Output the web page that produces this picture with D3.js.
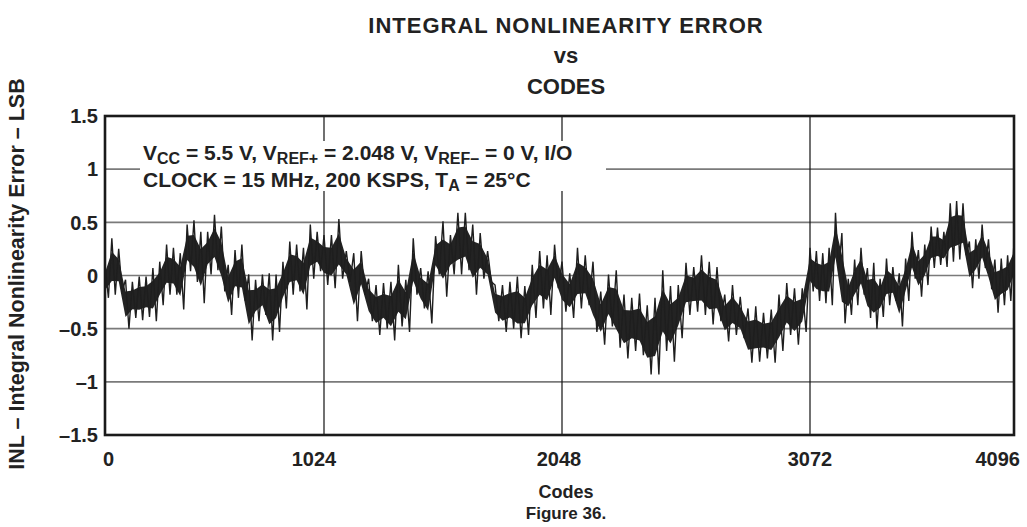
<!DOCTYPE html>
<html>
<head>
<meta charset="utf-8">
<script src="https://cdn.jsdelivr.net/npm/d3@7"></script>
<style>
    body { margin: 0; background: #fff; }
    svg { display: block; font-family: "Liberation Sans", Arial, Helvetica, sans-serif; font-weight: bold; }
</style>
</head>
<body>
<svg id="chart" width="1027" height="527"></svg>
<script>
    var codeStep = 32;
    var inlHigh = [0.10, 0.35, 0.25, -0.04, -0.06, -0.01, -0.01, 0.07, 0.13, 0.29, 0.26, 0.21, 0.48, 0.52, 0.41, 0.41,
                   0.57, 0.46, 0.10, 0.24, 0.29, 0.01, -0.04, 0.01, 0.02, 0.01, 0.13, 0.32, 0.29, 0.26, 0.48, 0.41,
                   0.38, 0.38, 0.53, 0.23, 0.21, 0.23, -0.03, -0.09, -0.07, -0.06, 0.10, -0.04, 0.35, 0.07, 0.04, 0.37,
                   0.51, 0.38, 0.59, 0.59, 0.48, 0.40, 0.23, -0.09, -0.09, -0.06, -0.01, -0.10, 0.10, 0.23, 0.19, 0.29,
                   0.13, 0.02, 0.26, 0.19, 0.13, -0.15, 0.01, 0.05, -0.18, -0.21, -0.17, -0.28, -0.21, 0.05, -0.10, -0.09,
                   0.12, 0.08, 0.19, 0.13, 0.08, -0.18, -0.09, -0.20, -0.31, -0.29, -0.35, -0.32, -0.18, -0.07, -0.12, -0.12,
                   0.26, 0.23, 0.21, 0.26, 0.59, 0.40, -0.03, 0.15, 0.26, 0.07, 0.12, -0.03, 0.16, 0.08, 0.02, 0.16,
                   0.41, 0.24, 0.29, 0.46, 0.45, 0.41, 0.68, 0.70, 0.68, 0.32, 0.34, 0.48, 0.34, 0.15, 0.16, 0.19, 0.32];
    var inlLow = [-0.21, -0.18, -0.15, -0.50, -0.40, -0.42, -0.39, -0.43, -0.28, -0.18, -0.18, -0.32, 0.04, -0.06, -0.26, 0.01,
                  0.05, -0.15, -0.37, -0.21, -0.24, -0.61, -0.43, -0.37, -0.61, -0.53, -0.31, -0.18, -0.15, -0.32, -0.03, 0.04,
                  -0.09, -0.12, -0.03, -0.06, -0.43, -0.18, -0.43, -0.56, -0.50, -0.61, -0.48, -0.53, -0.18, -0.31, -0.45, 0.01,
                  -0.20, 0.01, 0.01, 0.05, -0.18, -0.03, -0.06, -0.43, -0.53, -0.50, -0.59, -0.56, -0.40, -0.31, -0.37, -0.12,
                  -0.34, -0.40, -0.31, -0.28, -0.53, -0.65, -0.48, -0.68, -0.78, -0.71, -0.75, -0.93, -0.93, -0.71, -0.81, -0.59,
                  -0.37, -0.34, -0.37, -0.46, -0.43, -0.62, -0.56, -0.59, -0.82, -0.81, -0.78, -0.82, -0.71, -0.56, -0.65, -0.53,
                  -0.15, -0.24, -0.26, -0.28, 0.04, -0.45, -0.37, -0.28, -0.18, -0.40, -0.50, -0.39, -0.28, -0.24, -0.48, -0.24,
                  -0.03, -0.20, -0.09, 0.07, 0.10, 0.08, 0.13, 0.15, 0.19, -0.12, -0.03, 0.07, -0.13, -0.35, -0.28, -0.24, -0.09];

    var xTicks = [0, 1024, 2048, 3072, 4096];
    var yTicks = [-1.5, -1, -0.5, 0, 0.5, 1, 1.5];

    var svg = d3.select("#chart");

    // the printed axis is not evenly spaced, so map each 1024 block separately
    var x = d3.scaleLinear()
            .domain(xTicks)
            .range([105, 324, 562, 810, 1014]);
    var y = d3.scaleLinear()
            .domain([-1.5, 1.5])
            .range([435, 116]);

    // high swing at each code, low swing half a step later
    var trace = [];
    var band = [];
    inlHigh.forEach(function (h, i) {
        var c = i * codeStep;
        trace.push({code: c, v: h});
        trace.push({code: i < inlHigh.length - 1 ? c + codeStep / 2 : c, v: inlLow[i]});
        band.push({code: c, hi: h, lo: inlLow[i]});
    });

    // gridlines
    svg.append("g")
            .selectAll("line")
            .data(yTicks.slice(1, -1))
            .enter().append("line")
            .attr("x1", x(0)).attr("x2", x(4096))
            .attr("y1", function (d) { return y(d); })
            .attr("y2", function (d) { return y(d); })
            .attr("stroke", "#7a7a7a")
            .attr("stroke-width", 1.6);

    svg.append("g")
            .selectAll("line")
            .data(xTicks.slice(1, -1))
            .enter().append("line")
            .attr("x1", function (d) { return x(d); })
            .attr("x2", function (d) { return x(d); })
            .attr("y1", y(1.5)).attr("y2", y(-1.5))
            .attr("stroke", "#111")
            .attr("stroke-width", 1.2);

    // white box behind the conditions text
    svg.append("rect")
            .attr("x", 140).attr("y", 141)
            .attr("width", 466).attr("height", 50)
            .attr("fill", "#fff");

    // dense core of the noisy trace
    var core = d3.area()
            .x(function (d) { return x(d.code); })
            .y0(function (d) { return y(d.lo + (d.hi - d.lo) * 0.24); })
            .y1(function (d) { return y(d.hi - (d.hi - d.lo) * 0.24); });

    svg.append("path")
            .datum(band)
            .attr("d", core)
            .attr("fill", "#232323");

    var line = d3.line()
            .x(function (d) { return x(d.code); })
            .y(function (d) { return y(d.v); });

    svg.append("path")
            .datum(trace)
            .attr("d", line)
            .attr("fill", "none")
            .attr("stroke", "#1e1e1e")
            .attr("stroke-width", 1.4);

    // frame
    svg.append("rect")
            .attr("x", x(0)).attr("y", y(1.5))
            .attr("width", x(4096) - x(0))
            .attr("height", y(-1.5) - y(1.5))
            .attr("fill", "none")
            .attr("stroke", "#1a1a1a")
            .attr("stroke-width", 2.6);

    // y tick labels
    svg.append("g")
            .selectAll("text")
            .data(yTicks)
            .enter().append("text")
            .attr("x", 98)
            .attr("y", function (d) { return y(d); })
            .attr("dy", "0.36em")
            .attr("text-anchor", "end")
            .attr("font-size", 20)
            .attr("fill", "#222")
            .text(function (d) { return (d < 0 ? "\u2013" : "") + Math.abs(d); });

    // x tick labels (nudged like the printed figure)
    var xNudge = [-2, -10, -3, 0, 6];
    svg.append("g")
            .selectAll("text")
            .data(xTicks)
            .enter().append("text")
            .attr("x", function (d, i) { return x(d) + xNudge[i]; })
            .attr("y", 466)
            .attr("text-anchor", function (d, i) {
                return i === 0 ? "start" : (i === xTicks.length - 1 ? "end" : "middle");
            })
            .attr("font-size", 20)
            .attr("fill", "#222")
            .text(function (d) { return d; });

    // titles
    var titles = [["INTEGRAL NONLINEARITY ERROR", 33, 1], ["vs", 63, 0], ["CODES", 94, 0]];
    svg.append("g")
            .selectAll("text")
            .data(titles)
            .enter().append("text")
            .attr("x", 566)
            .attr("y", function (d) { return d[1]; })
            .attr("text-anchor", "middle")
            .attr("font-size", 22)
            .attr("letter-spacing", function (d) { return d[2]; })
            .attr("fill", "#222")
            .text(function (d) { return d[0]; });

    svg.append("text")
            .attr("x", 566).attr("y", 498)
            .attr("text-anchor", "middle")
            .attr("font-size", 18)
            .attr("fill", "#222")
            .text("Codes");

    svg.append("text")
            .attr("x", 566).attr("y", 519)
            .attr("text-anchor", "middle")
            .attr("font-size", 17)
            .attr("fill", "#222")
            .text("Figure 36.");

    svg.append("text")
            .attr("transform", "translate(24,274) rotate(-90)")
            .attr("text-anchor", "middle")
            .attr("font-size", 21.5)
            .attr("fill", "#222")
            .text("INL \u2013 Integral Nonlinearity Error \u2013 LSB");

    // test conditions
    function cond(yPos, parts) {
        var t = svg.append("text")
                .attr("x", 143).attr("y", yPos)
                .attr("font-size", 21)
                .attr("fill", "#222");
        parts.forEach(function (p) {
            var s = t.append("tspan").text(p[0]);
            if (p[1]) s.attr("font-size", 16).attr("dy", 4);
            else if (p[2]) s.attr("dy", -4);
        });
    }
    cond(160, [["V"], ["CC", 1], [" = 5.5 V, V", 0, 1], ["REF+", 1], [" = 2.048 V, V", 0, 1], ["REF\u2013", 1], [" = 0 V, I/O", 0, 1]]);
    cond(187, [["CLOCK = 15 MHz, 200 KSPS, T"], ["A", 1], [" = 25\u00b0C", 0, 1]]);
</script>
</body>
</html>
